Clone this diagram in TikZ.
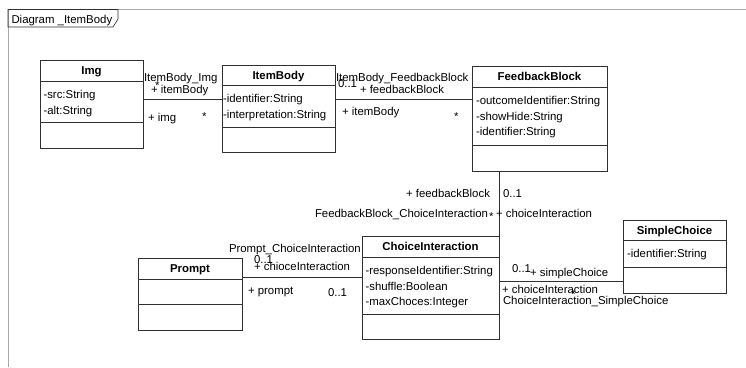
\documentclass[tikz,border=0pt]{standalone}
\usepackage{fontspec}
\setmainfont{Liberation Sans}
\usetikzlibrary{calc}
\definecolor{boxline}{HTML}{303030}
\definecolor{framegray}{HTML}{A8A8A8}

% class box: name, x, y, width, height, header height, header+attribute height, title
\newcommand{\umlclass}[8]{%
  \node[classbox, minimum width=#4pt, minimum height=#5pt] (#1) at (#2,#3) {};
  \draw[sepline] ([yshift=-#6pt]#1.north west) -- ([yshift=-#6pt]#1.north east);
  \draw[sepline] ([yshift=-#7pt]#1.north west) -- ([yshift=-#7pt]#1.north east);
  \node[classtitle] (#1-title) at ($(#1.north)+(0,#6/2+4.2)$) {#8};
}
% attribute line: class name, index, x offset, header height, text
\newcommand{\umlattr}[5]{%
  \node[attr] (#1-a#2) at ($(#1.north west)+(#3,#4+17.5+15.5*#2-15.5)$) {#5};
}

\begin{document}
\begin{tikzpicture}[x=1pt,y=-1pt,
  every node/.style={font=\fontsize{11.4}{13}\selectfont, inner sep=0pt, outer sep=0pt},
  classbox/.style={draw=boxline, line width=0.8pt, fill=white, anchor=north west},
  sepline/.style={draw=boxline, line width=0.8pt},
  classtitle/.style={anchor=base, font=\fontsize{11.4}{13}\selectfont\bfseries},
  attr/.style={anchor=base west},
  lbl/.style={anchor=base west},
  lblr/.style={anchor=base east},
  assoc/.style={draw=boxline, line width=0.8pt},
  frameline/.style={draw=framegray, line width=0.8pt},
  tabline/.style={draw=boxline, line width=0.6pt}]

\useasboundingbox (0,0) rectangle (746,367);

% diagram frame and its name tab
\draw[frameline] (8,367) -- (8,9.5) -- (746,9.5);
\draw[tabline] (8,9.5) -- (118,9.5) -- (118,19) -- (113,27) -- (8,27) -- cycle;
\node[lbl] (frame-name) at (11.5,23) {Diagram \_ItemBody};

% classes
\umlclass{img}{40}{60}{103}{88}{21}{62}{Img}
\umlattr{img}{1}{3.5}{21}{-src:String}
\umlattr{img}{2}{3.5}{21}{-alt:String}

\umlclass{ib}{222}{65}{113}{87}{20}{62}{ItemBody}
\umlattr{ib}{1}{1}{20}{-identifier:String}
\umlattr{ib}{2}{1}{20}{-interpretation:String}

\umlclass{fb}{472}{66}{135}{105}{21}{79}{FeedbackBlock}
\umlattr{fb}{1}{4}{21}{-outcomeIdentifier:String}
\umlattr{fb}{2}{4}{21}{-showHide:String}
\umlattr{fb}{3}{4}{21}{-identifier:String}

\umlclass{ci}{362}{236}{137}{103}{21}{78}{ChoiceInteraction}
\umlattr{ci}{1}{3.5}{21}{-responseIdentifier:String}
\umlattr{ci}{2}{3.5}{21}{-shuffle:Boolean}
\umlattr{ci}{3}{3.5}{21}{-maxChoces:Integer}

\umlclass{pr}{138}{258}{104}{72}{21}{46}{Prompt}

\umlclass{sc}{623}{220}{103}{73}{20}{47}{SimpleChoice}
\umlattr{sc}{1}{4}{20}{-identifier:String}

% associations
\coordinate (e-img) at ([yshift=5pt]img.east);
\draw[assoc] (e-img) -- (e-img -| ib.west);

\coordinate (e-ib) at ([yshift=9.5pt]ib.east);
\draw[assoc] (e-ib) -- (e-ib -| fb.west);

\draw[assoc] (ci.north east |- fb.south) -- (ci.north east);

\coordinate (e-pr) at ([yshift=17pt]pr.east);
\draw[assoc] (e-pr) -- (e-pr -| ci.west);

\coordinate (e-ci) at ([yshift=6.5pt]ci.east);
\draw[assoc] (e-ci) -- (e-ci -| sc.west);

% ItemBody_Img labels
\node[lbl] (n-ibimg) at (144,81) {ItemBody\_Img};
\node[lbl] (m-ibimg-a) at (155,89.5) {*};
\node[lbl] (r-ibimg-a) at (151,93) {+ itemBody};
\node[lbl] (r-ibimg-b) at (148,121) {+ img};
\node[lbl] (m-ibimg-b) at (202,120) {*};

% ItemBody_FeedbackBlock labels
\node[lbl] (n-ibfb) at (336,81) {ItemBody\_FeedbackBlock};
\node[lbl] (m-ibfb-a) at (338,87) {0..1};
\node[lbl] (r-ibfb-a) at (360,93) {+ feedbackBlock};
\node[lbl] (r-ibfb-b) at (342,115) {+ itemBody};
\node[lbl] (m-ibfb-b) at (454,120) {*};

% FeedbackBlock_ChoiceInteraction labels
\node[lblr] (r-fbci-a) at (490,197) {+ feedbackBlock};
\node[lbl] (m-fbci-a) at (503,197) {0..1};
\node[lbl] (n-fbci) at (315,217) {FeedbackBlock\_ChoiceInteraction};
\node[lbl] (m-fbci-b) at (489,220.5) {*};
\node[lbl] (r-fbci-b) at (496,217) {+ choiceInteraction};

% Prompt_ChoiceInteraction labels
\node[lbl] (n-prci) at (229,252) {Prompt\_ChoiceInteraction};
\node[lbl] (m-prci-a) at (254,263) {0..1};
\node[lbl] (r-prci-a) at (254,270) {+ chioceInteraction};
\node[lbl] (r-prci-b) at (248,294) {+ prompt};
\node[lbl] (m-prci-b) at (328,296) {0..1};

% ChoiceInteraction_SimpleChoice labels
\node[lbl] (m-cisc-a) at (512,272) {0..1};
\node[lbl] (r-cisc-a) at (530,276) {+ simpleChoice};
\node[lbl] (r-cisc-b) at (502,293) {+ choiceInteraction};
\node[lbl] (m-cisc-b) at (571,298) {*};
\node[lbl] (n-cisc) at (503,304) {ChoiceInteraction\_SimpleChoice};

\end{tikzpicture}
\end{document}
